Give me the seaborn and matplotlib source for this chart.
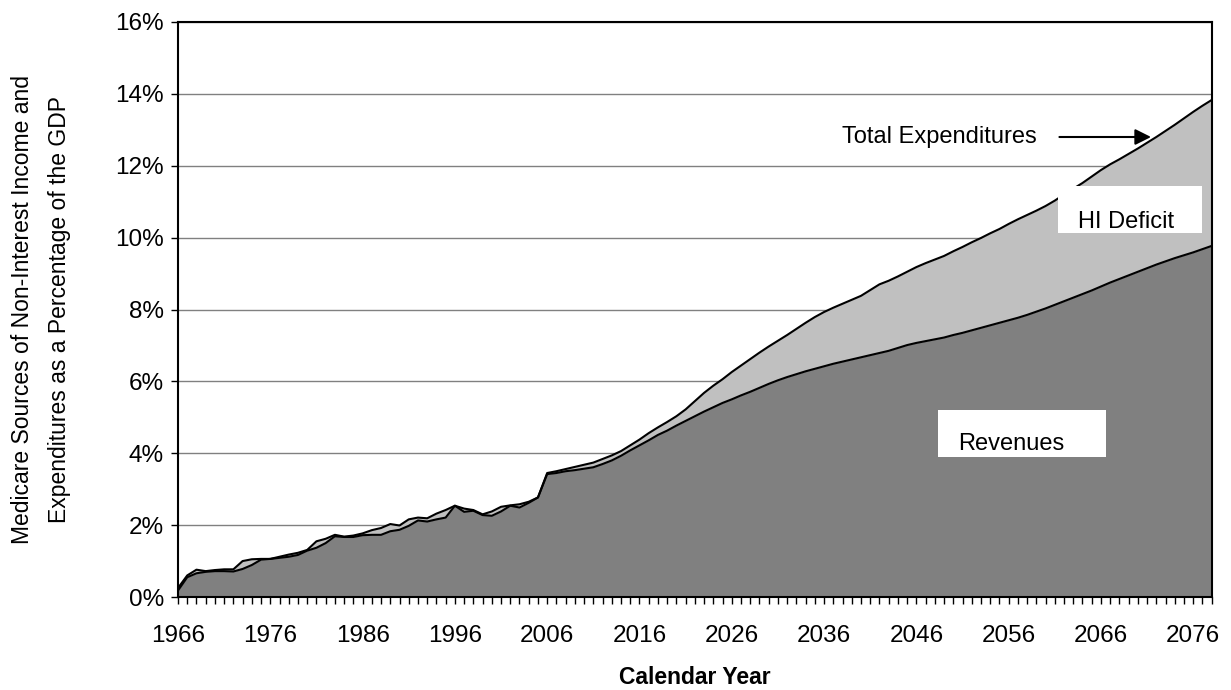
import numpy as np
import pandas as pd
import matplotlib
matplotlib.use("Agg")
import matplotlib.pyplot as plt
from matplotlib.patches import Rectangle
from matplotlib.ticker import FixedLocator, FuncFormatter
import seaborn as sns

# ---------------- data (percent of GDP) ----------------
years = list(range(1966, 2079))

expenditures = [
    0.25, 0.60, 0.76, 0.72, 0.75, 0.77, 0.77, 1.00, 1.05, 1.06,   # 1966-1975
    1.06, 1.12, 1.18, 1.23, 1.31, 1.55, 1.62, 1.73, 1.68, 1.71,   # 1976-1985
    1.77, 1.86, 1.92, 2.03, 1.99, 2.16, 2.21, 2.19, 2.32, 2.42,   # 1986-1995
    2.54, 2.46, 2.42, 2.30, 2.38, 2.51, 2.55, 2.58, 2.65, 2.77,   # 1996-2005
    3.45, 3.50, 3.56, 3.62, 3.68, 3.74, 3.84, 3.94, 4.06, 4.22,   # 2006-2015
    4.38, 4.56, 4.72, 4.87, 5.03, 5.22, 5.45, 5.68, 5.88, 6.06,   # 2016-2025
    6.26, 6.44, 6.62, 6.80, 6.97, 7.13, 7.29, 7.46, 7.63, 7.79,   # 2026-2035
    7.93, 8.05, 8.16, 8.27, 8.38, 8.54, 8.70, 8.80, 8.92, 9.05,   # 2036-2045
    9.18, 9.29, 9.39, 9.49, 9.62, 9.74, 9.87, 9.99, 10.12, 10.24, # 2046-2055
    10.38, 10.51, 10.63, 10.75, 10.88, 11.03, 11.20, 11.36, 11.52, 11.70,  # 2056-2065
    11.88, 12.04, 12.18, 12.33, 12.48, 12.64, 12.80, 12.97, 13.14, 13.32,  # 2066-2075
    13.50, 13.67, 13.83,                                          # 2076-2078
]

revenues = [
    0.18, 0.55, 0.66, 0.70, 0.72, 0.72, 0.71, 0.78, 0.89, 1.04,   # 1966-1975
    1.06, 1.09, 1.12, 1.17, 1.29, 1.37, 1.50, 1.69, 1.67, 1.67,   # 1976-1985
    1.72, 1.73, 1.73, 1.83, 1.87, 1.98, 2.13, 2.10, 2.16, 2.21,   # 1986-1995
    2.54, 2.37, 2.40, 2.28, 2.26, 2.38, 2.54, 2.49, 2.62, 2.77,   # 1996-2005
    3.42, 3.45, 3.50, 3.53, 3.57, 3.61, 3.70, 3.80, 3.93, 4.08,   # 2006-2015
    4.22, 4.36, 4.51, 4.63, 4.77, 4.90, 5.03, 5.16, 5.28, 5.40,   # 2016-2025
    5.50, 5.61, 5.71, 5.82, 5.93, 6.03, 6.12, 6.20, 6.28, 6.35,   # 2026-2035
    6.42, 6.49, 6.55, 6.61, 6.67, 6.73, 6.79, 6.85, 6.93, 7.01,   # 2036-2045
    7.07, 7.12, 7.17, 7.22, 7.29, 7.35, 7.42, 7.49, 7.56, 7.63,   # 2046-2055
    7.70, 7.77, 7.85, 7.94, 8.03, 8.13, 8.23, 8.33, 8.43, 8.53,   # 2056-2065
    8.64, 8.75, 8.85, 8.95, 9.05, 9.15, 9.25, 9.34, 9.43, 9.51,   # 2066-2075
    9.59, 9.68, 9.77,                                             # 2076-2078
]

x_tick_labels = [str(y) for y in range(1966, 2077, 10)]
y_ticks = [0, 2, 4, 6, 8, 10, 12, 14, 16]

df = pd.DataFrame({"year": years, "exp": expenditures, "rev": revenues})

# ---------------- style ----------------
sns.set_style("white")
plt.rcParams["font.family"] = ["Liberation Sans", "DejaVu Sans"]
plt.rcParams["text.color"] = "black"
plt.rcParams["axes.labelcolor"] = "black"
plt.rcParams["xtick.color"] = "black"
plt.rcParams["ytick.color"] = "black"

LIGHT = "#C0C0C0"
DARK = "#808080"

fig = plt.figure(figsize=(12.31, 6.90), dpi=100)
ax = fig.add_axes([178 / 1231, 1 - 597 / 690, (1211.7 - 178) / 1231, (597 - 22) / 690])

# gridlines behind
ax.set_axisbelow(True)
ax.yaxis.grid(True, color="#808080", linewidth=1.0)
ax.xaxis.grid(False)

# areas
ax.fill_between(df["year"], 0, df["exp"], color=LIGHT, linewidth=0, zorder=2)
ax.fill_between(df["year"], 0, df["rev"], color=DARK, linewidth=0, zorder=3)

# outlines via seaborn
sns.lineplot(data=df, x="year", y="exp", color="black", linewidth=1.5, ax=ax, zorder=4)
sns.lineplot(data=df, x="year", y="rev", color="black", linewidth=1.5, ax=ax, zorder=4)

ax.set_xlim(1966, 2078)
ax.set_ylim(0, 16)

# ticks
ax.xaxis.set_major_locator(FixedLocator([int(s) for s in x_tick_labels]))
ax.xaxis.set_minor_locator(FixedLocator(years))
ax.set_xticklabels(x_tick_labels)
ax.yaxis.set_major_locator(FixedLocator(y_ticks))
ax.yaxis.set_major_formatter(FuncFormatter(lambda v, p: f"{int(round(v))}%"))

ax.tick_params(axis="x", which="both", direction="out", length=5, width=1.0,
               color="black", bottom=True, labelsize=17.5, pad=15, labelcolor="black")
ax.tick_params(axis="x", which="minor", length=5)
ax.tick_params(axis="y", which="major", direction="out", length=5, width=1.0,
               color="black", left=True, labelsize=17.5, pad=5, labelcolor="black")

for s in ax.spines.values():
    s.set_color("black")
    s.set_linewidth(1.5)
    s.set_zorder(5)

ax.set_xlabel("Calendar Year", fontsize=16.5, fontweight="bold", labelpad=14, color="black")
ax.set_ylabel("Medicare Sources of Non-Interest Income and\nExpenditures as a Percentage of the GDP",
              fontsize=16.5, linespacing=1.8, color="black")
ax.yaxis.label.set_va("center")
ax.yaxis.set_label_coords(-0.1325, 0.5)

# annotations
ax.text(0.642, 0.80, "Total Expenditures", transform=ax.transAxes,
        fontsize=17, va="center", ha="left", zorder=6)
ax.annotate("", xy=(0.944, 0.80), xytext=(0.850, 0.80), xycoords="axes fraction",
            arrowprops=dict(arrowstyle="-|>", color="black", lw=1.5, mutation_scale=24),
            zorder=6)

# HI Deficit box
ax.add_patch(Rectangle((0.851, 0.633), 0.140, 0.082, transform=ax.transAxes,
                       facecolor="white", edgecolor="none", zorder=6))
clip1 = Rectangle((0.851, 0.6455), 0.140, 0.07, transform=ax.transAxes,
                  facecolor="none", edgecolor="none")
ax.add_patch(clip1)
t1 = ax.text(0.871, 0.642, "HI Deficit", transform=ax.transAxes, fontsize=17,
             va="baseline", ha="left", zorder=7)
t1.set_clip_path(clip1)

# Revenues box
ax.add_patch(Rectangle((0.735, 0.2435), 0.163, 0.0815, transform=ax.transAxes,
                       facecolor="white", edgecolor="none", zorder=6))
clip2 = Rectangle((0.735, 0.259), 0.163, 0.066, transform=ax.transAxes,
                  facecolor="none", edgecolor="none")
ax.add_patch(clip2)
t2 = ax.text(0.755, 0.2555, "Revenues", transform=ax.transAxes, fontsize=17,
             va="baseline", ha="left", zorder=7)
t2.set_clip_path(clip2)

fig.savefig("out.png", dpi=100, facecolor="white")
